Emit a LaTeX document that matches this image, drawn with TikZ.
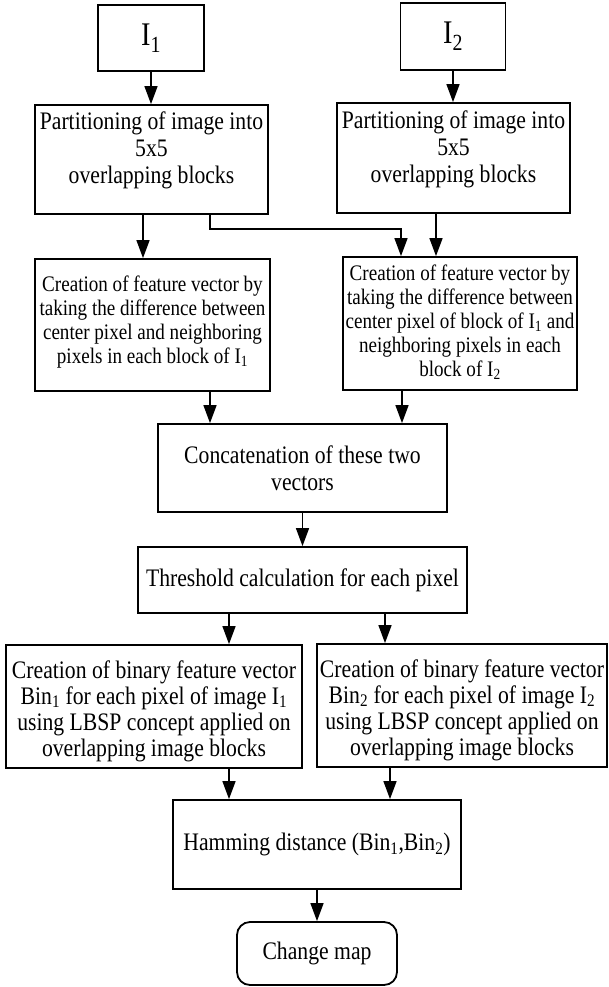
\documentclass[tikz,border=0pt]{standalone}
\usepackage{fontspec}
\setmainfont{Liberation Serif}[FakeStretch=0.86]
\usetikzlibrary{arrows.meta}
\tikzset{
  box/.style={draw, line width=1.8pt, inner sep=0pt},
  lbl/.style={align=center, inner sep=0pt},
  arr/.style={line width=1.5pt, -{Triangle[length=18pt,width=13pt]}},
  fbig/.style={font=\fontsize{33}{38}\selectfont},
  fmain/.style={font=\fontsize{25.2}{27}\selectfont},
  fbin/.style={font=\fontsize{25.2}{26}\selectfont},
  fsmall/.style={font=\fontsize{22.2}{24}\selectfont},
}
\newcommand{\sbs}[1]{\textsubscript{#1}}
\begin{document}
\begin{tikzpicture}[x=1pt,y=-1pt]
\useasboundingbox (0,0) rectangle (608,987);
% boxes
\node[box, minimum width=106pt, minimum height=66pt] (i1) at (151,38) {};
\node[lbl, fbig] (i1t) at (i1.center) {I\sbs{1}};
\node[box, minimum width=105pt, minimum height=67pt] (i2) at (453,36.5) {};
\node[lbl, fbig] (i2t) at (i2.center) {I\sbs{2}};

\node[box, minimum width=233pt, minimum height=109pt] (p1) at (151.5,159.5) {};
\node[lbl, fmain] (p1t) at (151.5,150) {Partitioning of image into\\5x5\\overlapping blocks};
\node[box, minimum width=233pt, minimum height=110pt] (p2) at (453.5,158) {};
\node[lbl, fmain] (p2t) at (453.5,149) {Partitioning of image into\\5x5\\overlapping blocks};

\node[box, minimum width=235pt, minimum height=132pt] (f1) at (152.5,325) {};
\node[lbl, fsmall] (f1t) at (152.5,322) {Creation of feature vector by\\taking the difference between\\center pixel and neighboring\\pixels in each block of I\sbs{1}};
\node[box, minimum width=234pt, minimum height=133pt] (f2) at (460,323.5) {};
\node[lbl, fsmall] (f2t) at (460,322) {Creation of feature vector by\\taking the difference between\\center pixel of block of I\sbs{1} and\\neighboring pixels in each\\block of I\sbs{2}};

\node[box, minimum width=289pt, minimum height=88pt] (cc) at (302.5,468) {};
\node[lbl, fmain] (cct) at (cc.center) {Concatenation of these two\\vectors};

\node[box, minimum width=329pt, minimum height=66pt] (th) at (302.5,580) {};
\node[lbl, fmain] (tht) at (th.center) {Threshold calculation for each pixel};

\node[box, minimum width=296pt, minimum height=123pt] (b1) at (154,706.5) {};
\node[lbl, fbin] (b1t) at (154,711) {Creation of binary feature vector\\Bin\sbs{1} for each pixel of image I\sbs{1}\\using LBSP concept applied on\\overlapping image blocks};
\node[box, minimum width=290pt, minimum height=123pt] (b2) at (462,705.5) {};
\node[lbl, fbin] (b2t) at (462,710) {Creation of binary feature vector\\Bin\sbs{2} for each pixel of image I\sbs{2}\\using LBSP concept applied on\\overlapping image blocks};

\node[box, minimum width=288pt, minimum height=89pt] (hm) at (317,844.5) {};
\node[lbl, fmain] (hmt) at (hm.center) {Hamming distance (Bin\sbs{1},Bin\sbs{2})};

\node[box, rounded corners=13pt, minimum width=160pt, minimum height=63pt] (cm) at (317,953.5) {};
\node[lbl, fmain] (cmt) at (cm.center) {Change map};

% connectors
\draw[arr] (i1.south) -- (i1.south |- p1.north);
\draw[arr] (i2.south) -- (i2.south |- p2.north);
\draw[arr] ([xshift=-8.5pt]p1.south) -- ([xshift=-8.5pt]p1.south |- f1.north);
\draw[arr] ([xshift=58.5pt]p1.south) -- ++(0,14) -| ([xshift=-59pt]f2.north);
\draw[arr] ([xshift=-17.5pt]p2.south) -- ([xshift=-17.5pt]p2.south |- f2.north);
\draw[arr] ([xshift=57.5pt]f1.south) -- ([xshift=57.5pt]f1.south |- cc.north);
\draw[arr] ([xshift=-58pt]f2.south) -- ([xshift=-58pt]f2.south |- cc.north);
\draw[arr] (cc.south) -- (cc.south |- th.north);
\draw[arr] ([xshift=-73.5pt]th.south) -- ([xshift=-73.5pt]th.south |- b1.north);
\draw[arr] ([xshift=82.5pt]th.south) -- ([xshift=82.5pt]th.south |- b2.north);
\draw[arr] ([xshift=75pt]b1.south) -- ([xshift=75pt]b1.south |- hm.north);
\draw[arr] ([xshift=-72pt]b2.south) -- ([xshift=-72pt]b2.south |- hm.north);
\draw[arr] (hm.south) -- (hm.south |- cm.north);
\end{tikzpicture}
\end{document}
